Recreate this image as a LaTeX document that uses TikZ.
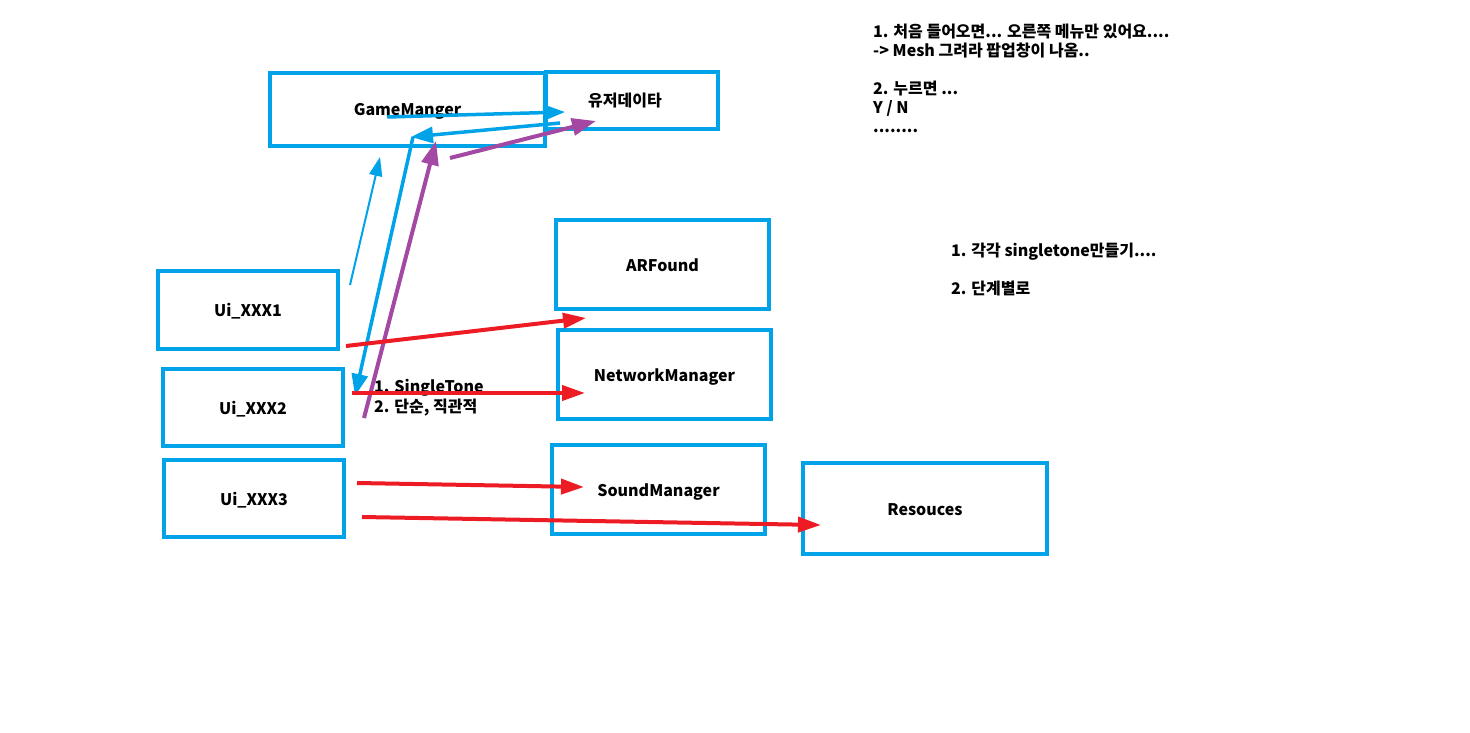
\documentclass[tikz,border=0pt]{standalone}
\usepackage{fontspec}
\setmainfont{Noto Sans CJK KR}
\usetikzlibrary{arrows.meta}
\definecolor{pblue}{RGB}{0,162,232}
\definecolor{pred}{RGB}{237,28,36}
\definecolor{ppurple}{RGB}{163,73,164}
\tikzset{
  box/.style={draw=pblue, line width=4pt, inner sep=0pt, text height=14pt, text depth=1pt, font=\fontsize{16}{19}\selectfont\bfseries},
  txt/.style={inner sep=0pt, anchor=west, text height=14pt, text depth=1pt, font=\fontsize{16}{19}\selectfont\bfseries},
  redarr/.style={draw=pred, line width=4pt, -{Triangle[length=23pt,width=15pt]}},
  bluearr/.style={draw=pblue, line width=3.5pt, -{Triangle[length=22pt,width=16pt]}},
  bluethin/.style={draw=pblue, line width=2pt, -{Triangle[length=19pt,width=13pt]}},
  purparr/.style={draw=ppurple, line width=4pt, -{Triangle[length=24pt,width=17pt]}},
}
\begin{document}
\begin{tikzpicture}[x=1pt,y=-1pt]
\useasboundingbox (0,0) rectangle (1470,733);
\fill[white] (0,0) rectangle (1470,733);

% boxes
\node[box, minimum width=275pt, minimum height=73pt] (gm) at (407.5,109.5) {GameManger};
\node[box, minimum width=172pt, minimum height=57pt] (ud) at (632,100.5) {유저데이타\hspace*{14pt}};
\node[box, minimum width=213pt, minimum height=89pt] (ar) at (662.5,264.5) {ARFound};
\node[box, minimum width=213pt, minimum height=89pt] (nm) at (664.5,374.5) {NetworkManager};
\node[box, minimum width=213pt, minimum height=89pt] (sm) at (658.5,489.5) {SoundManager};
\node[box, minimum width=244pt, minimum height=91pt] (rs) at (925,508.5) {Resouces};
\node[box, minimum width=180pt, minimum height=78pt] (u1) at (248,310) {Ui\_XXX1};
\node[box, minimum width=180pt, minimum height=77pt] (u2) at (253,407.5) {Ui\_XXX2};
\node[box, minimum width=180pt, minimum height=77pt] (u3) at (254,498.5) {Ui\_XXX3};

% texts
\node[txt] (n1) at (873,31) {1. 처음 들어오면... 오른쪽 메뉴만 있어요....};
\node[txt] (n2) at (873,50) {-> Mesh 그려라 팝업창이 나옴..};
\node[txt] (n3) at (873,88) {2. 누르면 ...};
\node[txt] (n4) at (873,107) {Y / N};
\node[txt] (n5) at (873,126) {........};
\node[txt] (m1) at (951,250) {1. 각각 singletone만들기....};
\node[txt] (m2) at (951,288) {2. 단계별로};
\node[txt] (s1) at (374,386) {1. SingleTone};
\node[txt] (s2) at (374,406) {2. 단순, 직관적};

% connector endpoints
\coordinate (b1s) at (350,285);  \coordinate (b1e) at (380,157);
\coordinate (b2s) at (387,117);  \coordinate (b2e) at (565,112);
\coordinate (b3s) at (560,123);  \coordinate (b3e) at (411,137);
\coordinate (b4s) at (413,137);  \coordinate (b4e) at (355,396);
\coordinate (p1s) at (364,418);  \coordinate (p1e) at (436,141);
\coordinate (p2s) at (450,158);  \coordinate (p2e) at (596,121);
\coordinate (r1s) at (346,346);  \coordinate (r1e) at (586,318);
\coordinate (r2s) at (352,393);  \coordinate (r2e) at (585,393);
\coordinate (r3s) at (357,483);  \coordinate (r3e) at (584,487);
\coordinate (r4s) at (362,517);  \coordinate (r4e) at (821,525);

% connectors
\draw[bluethin] (b1s) -- (b1e);
\draw[bluearr] (b2s) -- (b2e);
\draw[bluearr] (b3s) -- (b3e);
\draw[bluearr] (b4s) -- (b4e);
\draw[purparr] (p1s) -- (p1e);
\draw[purparr] (p2s) -- (p2e);
\draw[redarr] (r1s) -- (r1e);
\draw[redarr] (r2s) -- (r2e);
\draw[redarr] (r3s) -- (r3e);
\draw[redarr] (r4s) -- (r4e);
\end{tikzpicture}
\end{document}
